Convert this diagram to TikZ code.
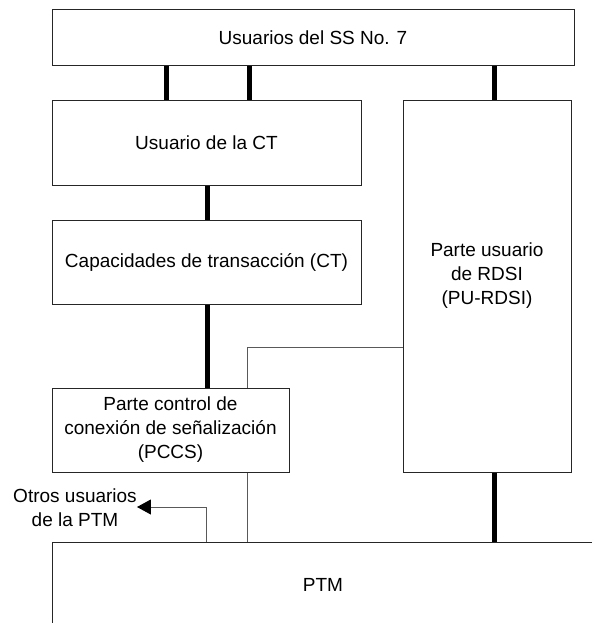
\documentclass[tikz,border=0pt]{standalone}
\usepackage{fontspec}
\setmainfont{Liberation Sans}
\usetikzlibrary{arrows.meta}
\begin{document}
\begin{tikzpicture}[x=1pt,y=-1pt,
  blk/.style={draw=black!85,line width=1pt,inner sep=0pt,align=center,
    font=\fontsize{19}{24}\selectfont},
  txt/.style={inner sep=0pt,align=center,font=\fontsize{19}{24}\selectfont},
  bus/.style={line width=5pt,black},
  thin/.style={draw=black!65,line width=1pt}]
\useasboundingbox (0,0) rectangle (592,623);
\node[blk,minimum width=522pt,minimum height=56pt] (ss7) at (313,38) {Usuarios del SS No. 7};
\node[blk,minimum width=309pt,minimum height=84pt] (ctu) at (206.5,143) {Usuario de la CT};
\node[blk,minimum width=309pt,minimum height=84pt] (ct) at (206.5,262) {Capacidades de transacción (CT)};
\node[blk,minimum width=168pt,minimum height=371pt] (rdsi) at (487,286.5) {};
\node[txt] (rdsit) at (487,276) {Parte usuario\\de RDSI\\(PU-RDSI)};
\node[blk,minimum width=237pt,minimum height=84pt] (pccs) at (170.5,430) {Parte control de\\conexión de señalización\\(PCCS)};
\node[txt] (ptmt) at (323,585) {PTM};
\node[txt] (otros) at (75,507.5) {Otros usuarios\\de la PTM};
\coordinate (ptmtl) at (52,542);
\coordinate (ptmtr) at (592,542);
\coordinate (ptmbl) at (52,623);
\draw[draw=black!85,line width=1pt] (ptmtr) -- (ptmtl) -- (ptmbl);
% thick connectors
\draw[bus] (ss7.south -| 166,0) -- (ctu.north -| 166,0);
\draw[bus] (ss7.south -| 249,0) -- (ctu.north -| 249,0);
\draw[bus] (ss7.south -| 494,0) -- (rdsi.north -| 494,0);
\draw[bus] (ctu.south -| 207,0) -- (ct.north -| 207,0);
\draw[bus] (ct.south -| 207,0) -- (pccs.north -| 207,0);
\draw[bus] (rdsi.south -| 494,0) -- (ptmtl -| 494,0);
% thin connectors
\coordinate (bend) at (247,347);
\draw[thin] (pccs.north -| bend) -- (bend) -- (rdsi.west |- bend);
\draw[thin] (pccs.south -| bend) -- (ptmtl -| bend);
\coordinate (up) at (206,507);
\draw[thin,-{Triangle[length=14pt,width=15pt,color=black,fill=black]}] (ptmtl -| up) -- (up) -- (otros.east |- up);
\end{tikzpicture}
\end{document}
